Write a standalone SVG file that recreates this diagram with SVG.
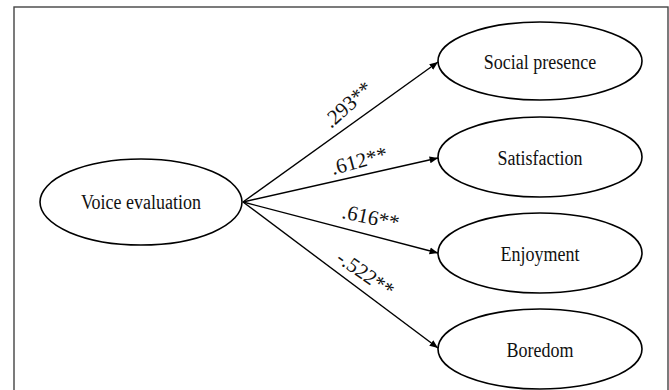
<svg xmlns="http://www.w3.org/2000/svg" width="669" height="390" viewBox="0 0 669 390">
<style>
.node ellipse{fill:#fff;stroke:#000;stroke-width:1.6}
.node text{font-family:"Liberation Serif","Times New Roman",serif;font-size:18px;fill:#111;text-anchor:middle}
.edge line{stroke:#000;stroke-width:1.4;marker-end:url(#ah)}
.lbl{font-family:"Liberation Serif","Times New Roman",serif;font-size:21px;fill:#111}
</style>
<defs>
<marker id="ah" viewBox="0 0 10 10" refX="10" refY="5" markerWidth="6" markerHeight="6" markerUnits="strokeWidth" orient="auto">
<path d="M0,1 L10,5 L0,9 z" fill="#000"/>
</marker>
</defs>
<rect x="0" y="0" width="669" height="390" fill="#fff"/>
<rect x="14" y="7" width="654" height="400" fill="none" stroke="#444" stroke-width="1.4"/>
<g id="connectors" class="edge">
<line x1="243" y1="202" x2="438" y2="62"/>
<line x1="243" y1="202" x2="438" y2="158"/>
<line x1="243" y1="202" x2="438" y2="253"/>
<line x1="243" y1="202" x2="438" y2="348"/>
<text class="lbl" transform="translate(331,129) rotate(-42)">.293**</text>
<text class="lbl" transform="translate(333,175) rotate(-15)">.612**</text>
<text class="lbl" transform="translate(341,218) rotate(12)">.616**</text>
<text class="lbl" transform="translate(335,261) rotate(35)">-.522**</text>
</g>
<g id="voice" class="node">
<ellipse cx="141" cy="202" rx="101" ry="43"/>
<text transform="translate(141,209) scale(1,1.2)">Voice evaluation</text>
</g>
<g id="social" class="node">
<ellipse cx="540" cy="61" rx="102" ry="39"/>
<text transform="translate(540,69) scale(1,1.2)">Social presence</text>
</g>
<g id="satisfaction" class="node">
<ellipse cx="540" cy="157" rx="102" ry="40"/>
<text transform="translate(540,165) scale(1,1.2)">Satisfaction</text>
</g>
<g id="enjoyment" class="node">
<ellipse cx="540" cy="253" rx="102" ry="40"/>
<text transform="translate(540,261) scale(1,1.2)">Enjoyment</text>
</g>
<g id="boredom" class="node">
<ellipse cx="540" cy="349" rx="102" ry="40"/>
<text transform="translate(540,357) scale(1,1.2)">Boredom</text>
</g>
</svg>
